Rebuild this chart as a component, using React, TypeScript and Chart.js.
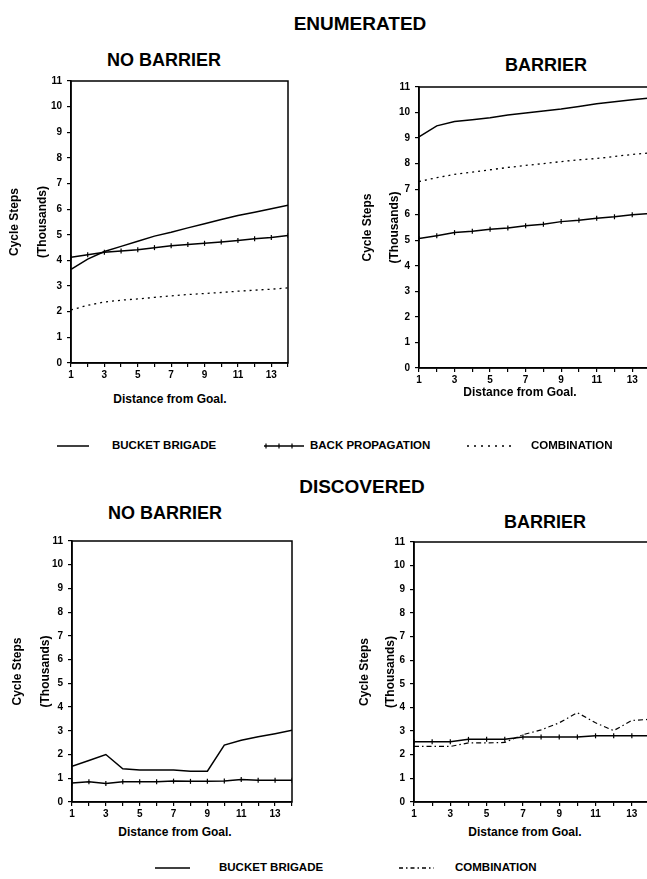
import React, { useEffect, useRef } from "react";
import { Chart, registerables } from "chart.js";

Chart.register(...registerables);

// ---------- data ----------
const distances = [1, 2, 3, 4, 5, 6, 7, 8, 9, 10, 11, 12, 13, 14];
const xTickLabels = [1, 3, 5, 7, 9, 11, 13];
const yTickValues = [0, 1, 2, 3, 4, 5, 6, 7, 8, 9, 10, 11];

// Enumerated, no barrier
const enumNoBarrierBucket = [3.65, 4.05, 4.35, 4.55, 4.75, 4.95, 5.1, 5.27, 5.43, 5.6, 5.75, 5.88, 6.02, 6.15];
const enumNoBarrierBackProp = [4.12, 4.22, 4.32, 4.37, 4.42, 4.5, 4.57, 4.62, 4.67, 4.72, 4.78, 4.85, 4.9, 4.97];
const enumNoBarrierCombination = [2.07, 2.25, 2.38, 2.45, 2.5, 2.56, 2.62, 2.67, 2.71, 2.75, 2.8, 2.84, 2.88, 2.93];

// Enumerated, barrier
const enumBarrierBucket = [9.05, 9.48, 9.65, 9.72, 9.8, 9.9, 9.98, 10.06, 10.14, 10.24, 10.34, 10.42, 10.5, 10.57];
const enumBarrierBackProp = [5.07, 5.18, 5.3, 5.35, 5.43, 5.48, 5.57, 5.63, 5.73, 5.78, 5.86, 5.92, 6.0, 6.05];
const enumBarrierCombination = [7.3, 7.45, 7.58, 7.67, 7.76, 7.85, 7.93, 8.0, 8.08, 8.15, 8.2, 8.28, 8.36, 8.42];

// Discovered, no barrier
const discNoBarrierBucket = [1.5, 1.75, 2.0, 1.4, 1.35, 1.35, 1.35, 1.3, 1.3, 2.4, 2.6, 2.75, 2.88, 3.02];
const discNoBarrierCombination = [0.8, 0.85, 0.78, 0.85, 0.85, 0.85, 0.88, 0.87, 0.87, 0.88, 0.95, 0.92, 0.92, 0.92];

// Discovered, barrier
const discBarrierBucket = [2.35, 2.35, 2.35, 2.5, 2.5, 2.52, 2.85, 3.05, 3.35, 3.78, 3.35, 3.02, 3.45, 3.5];
const discBarrierCombination = [2.55, 2.55, 2.55, 2.65, 2.65, 2.65, 2.75, 2.75, 2.75, 2.75, 2.8, 2.8, 2.8, 2.8];

const FONT = '"Liberation Sans", Arial, sans-serif';

const toPoints = (vals: number[]) => distances.map((d, i) => ({ x: d, y: vals[i] }));

type Style = "solid" | "ticked" | "dotted" | "dashdot";

function makeDataset(label: string, vals: number[], style: Style) {
  const base: any = {
    label,
    data: toPoints(vals),
    borderColor: "#000",
    backgroundColor: "#000",
    borderWidth: 1.5,
    tension: 0,
    fill: false,
    pointRadius: 0,
  };
  if (style === "ticked") {
    base.pointStyle = "line";
    base.pointRotation = 90;
    base.pointRadius = 2.5;
    base.pointBorderWidth = 1.2;
  } else if (style === "dotted") {
    base.borderDash = [2, 4];
    base.borderWidth = 1.3;
  } else if (style === "dashdot") {
    base.borderDash = [5, 3, 1.5, 3];
    base.borderWidth = 1.2;
  }
  return base;
}

const framePlugin = {
  id: "frame",
  afterDatasetsDraw(chart: any) {
    const { ctx, chartArea } = chart;
    const { left, top, right, bottom } = chartArea;
    ctx.save();
    ctx.strokeStyle = "#000";
    ctx.lineWidth = 1.5;
    ctx.strokeRect(left, top, right - left, bottom - top);
    ctx.restore();
  },
};

type PanelProps = {
  left: number;
  top: number;
  areaLeft: number;
  areaTop: number;
  areaRight: number;
  areaBottom: number;
  titleX: number;
  titleGap: number;
  datasets: any[];
};

function Panel(p: PanelProps) {
  const ref = useRef<HTMLCanvasElement | null>(null);
  const padTop = p.areaTop - p.top;
  const yW = p.areaLeft - p.left;
  const xH = 20;
  const padRight = 8;
  const width = p.areaRight - p.left + padRight;
  const height = p.areaBottom - p.top + xH;

  useEffect(() => {
    if (!ref.current) return;
    const chart = new Chart(ref.current, {
      type: "line",
      data: { datasets: p.datasets },
      options: {
        animation: false,
        responsive: false,
        devicePixelRatio: 1,
        layout: { padding: { top: padTop, right: padRight, left: 0, bottom: 0 } },
        plugins: { legend: { display: false }, tooltip: { enabled: false } },
        scales: {
          x: {
            type: "linear",
            min: 1,
            max: 14,
            afterFit: (s: any) => {
              s.height = xH;
            },
            afterBuildTicks: (s: any) => {
              s.ticks = distances.map((v) => ({ value: v }));
            },
            grid: { display: true, drawOnChartArea: false, tickLength: 4, color: "#000", lineWidth: 1.2 },
            border: { display: true, color: "#000", width: 1.5 },
            ticks: {
              autoSkip: false,
              maxRotation: 0,
              padding: 2,
              color: "#000",
              font: { family: FONT, size: 10, weight: "bold" },
              callback: (v: any) => (xTickLabels.includes(Number(v)) ? String(v) : ""),
            },
          },
          y: {
            type: "linear",
            min: 0,
            max: 11,
            afterFit: (s: any) => {
              s.width = yW;
            },
            afterBuildTicks: (s: any) => {
              s.ticks = yTickValues.map((v) => ({ value: v }));
            },
            grid: { display: true, drawOnChartArea: false, tickLength: 4, color: "#000", lineWidth: 1.2 },
            border: { display: true, color: "#000", width: 1.5 },
            ticks: {
              padding: 5,
              color: "#000",
              font: { family: FONT, size: 10, weight: "bold" },
            },
            title: {
              display: true,
              text: ["Cycle Steps", "(Thousands)"],
              color: "#000",
              font: { family: FONT, size: 12, weight: "bold", lineHeight: `${p.titleGap}px` },
              padding: { top: p.titleX - p.left - p.titleGap / 2, bottom: 0 },
            },
          },
        },
      },
      plugins: [framePlugin],
    } as any);
    return () => chart.destroy();
  }, []);

  return (
    <canvas
      ref={ref}
      width={width}
      height={height}
      style={{ position: "absolute", left: p.left, top: p.top, width, height }}
    />
  );
}

function Label(props: { x: number; y: number; size: number; children: React.ReactNode }) {
  return (
    <div
      style={{
        position: "absolute",
        left: props.x,
        top: props.y,
        transform: "translate(-50%, -50%)",
        fontFamily: FONT,
        fontWeight: 700,
        fontSize: props.size,
        whiteSpace: "nowrap",
        color: "#000",
        lineHeight: 1,
      }}
    >
      {props.children}
    </div>
  );
}

function LeftLabel(props: { x: number; y: number; size: number; children: React.ReactNode }) {
  return (
    <div
      style={{
        position: "absolute",
        left: props.x,
        top: props.y,
        transform: "translate(0, -50%)",
        fontFamily: FONT,
        fontWeight: 700,
        fontSize: props.size,
        whiteSpace: "nowrap",
        color: "#000",
        lineHeight: 1,
      }}
    >
      {props.children}
    </div>
  );
}

function Sample(props: { x1: number; x2: number; y: number; style: Style }) {
  const w = props.x2 - props.x1;
  const dash =
    props.style === "dotted" ? "2 5" : props.style === "dashdot" ? "4 3 1.5 3" : undefined;
  const ticks: number[] = [];
  if (props.style === "ticked") {
    for (let t = 2; t < w; t += 13) ticks.push(t);
  }
  return (
    <svg
      width={w}
      height={10}
      style={{ position: "absolute", left: props.x1, top: props.y - 5, overflow: "visible" }}
    >
      <line x1={0} y1={5} x2={w} y2={5} stroke="#000" strokeWidth={1.5} strokeDasharray={dash} />
      {ticks.map((t) => (
        <line key={t} x1={t} y1={2.5} x2={t} y2={7.5} stroke="#000" strokeWidth={1.2} />
      ))}
    </svg>
  );
}

export default function App() {
  return (
    <div
      style={{
        position: "fixed",
        left: 0,
        top: 0,
        width: 647,
        height: 879,
        overflow: "hidden",
        background: "#fff",
      }}
    >
      <Label x={360} y={23} size={19}>ENUMERATED</Label>
      <Label x={164} y={60} size={18}>NO BARRIER</Label>
      <Label x={546} y={65} size={18}>BARRIER</Label>

      <Panel
        left={0}
        top={70}
        areaLeft={71}
        areaTop={80}
        areaRight={288}
        areaBottom={363}
        titleX={15}
        titleGap={28}
        datasets={[
          makeDataset("Bucket Brigade", enumNoBarrierBucket, "solid"),
          makeDataset("Back Propagation", enumNoBarrierBackProp, "ticked"),
          makeDataset("Combination", enumNoBarrierCombination, "dotted"),
        ]}
      />
      <Panel
        left={340}
        top={76}
        areaLeft={419}
        areaTop={86}
        areaRight={650}
        areaBottom={368}
        titleX={368}
        titleGap={27}
        datasets={[
          makeDataset("Bucket Brigade", enumBarrierBucket, "solid"),
          makeDataset("Back Propagation", enumBarrierBackProp, "ticked"),
          makeDataset("Combination", enumBarrierCombination, "dotted"),
        ]}
      />
      <Label x={170} y={399} size={12}>Distance from Goal.</Label>
      <Label x={520} y={392} size={12}>Distance from Goal.</Label>

      <Sample x1={57} x2={89} y={446} style="solid" />
      <LeftLabel x={112} y={446} size={11.5}>BUCKET BRIGADE</LeftLabel>
      <Sample x1={264} x2={304} y={446} style="ticked" />
      <LeftLabel x={310} y={446} size={11.5}>BACK PROPAGATION</LeftLabel>
      <Sample x1={467} x2={512} y={446} style="dotted" />
      <LeftLabel x={531} y={446} size={11.5}>COMBINATION</LeftLabel>

      <Label x={362} y={486} size={19}>DISCOVERED</Label>
      <Label x={165} y={513} size={18}>NO BARRIER</Label>
      <Label x={545} y={522} size={18}>BARRIER</Label>

      <Panel
        left={0}
        top={530}
        areaLeft={72}
        areaTop={540}
        areaRight={292}
        areaBottom={802}
        titleX={18}
        titleGap={28}
        datasets={[
          makeDataset("Bucket Brigade", discNoBarrierBucket, "solid"),
          makeDataset("Combination", discNoBarrierCombination, "ticked"),
        ]}
      />
      <Panel
        left={340}
        top={531}
        areaLeft={414}
        areaTop={541}
        areaRight={650}
        areaBottom={802}
        titleX={365}
        titleGap={26}
        datasets={[
          makeDataset("Bucket Brigade", discBarrierBucket, "dashdot"),
          makeDataset("Combination", discBarrierCombination, "ticked"),
        ]}
      />
      <Label x={175} y={832} size={12}>Distance from Goal.</Label>
      <Label x={525} y={832} size={12}>Distance from Goal.</Label>

      <Sample x1={155} x2={190} y={868} style="solid" />
      <LeftLabel x={219} y={868} size={11.5}>BUCKET BRIGADE</LeftLabel>
      <Sample x1={399} x2={434} y={868} style="dashdot" />
      <LeftLabel x={455} y={868} size={11.5}>COMBINATION</LeftLabel>
    </div>
  );
}
